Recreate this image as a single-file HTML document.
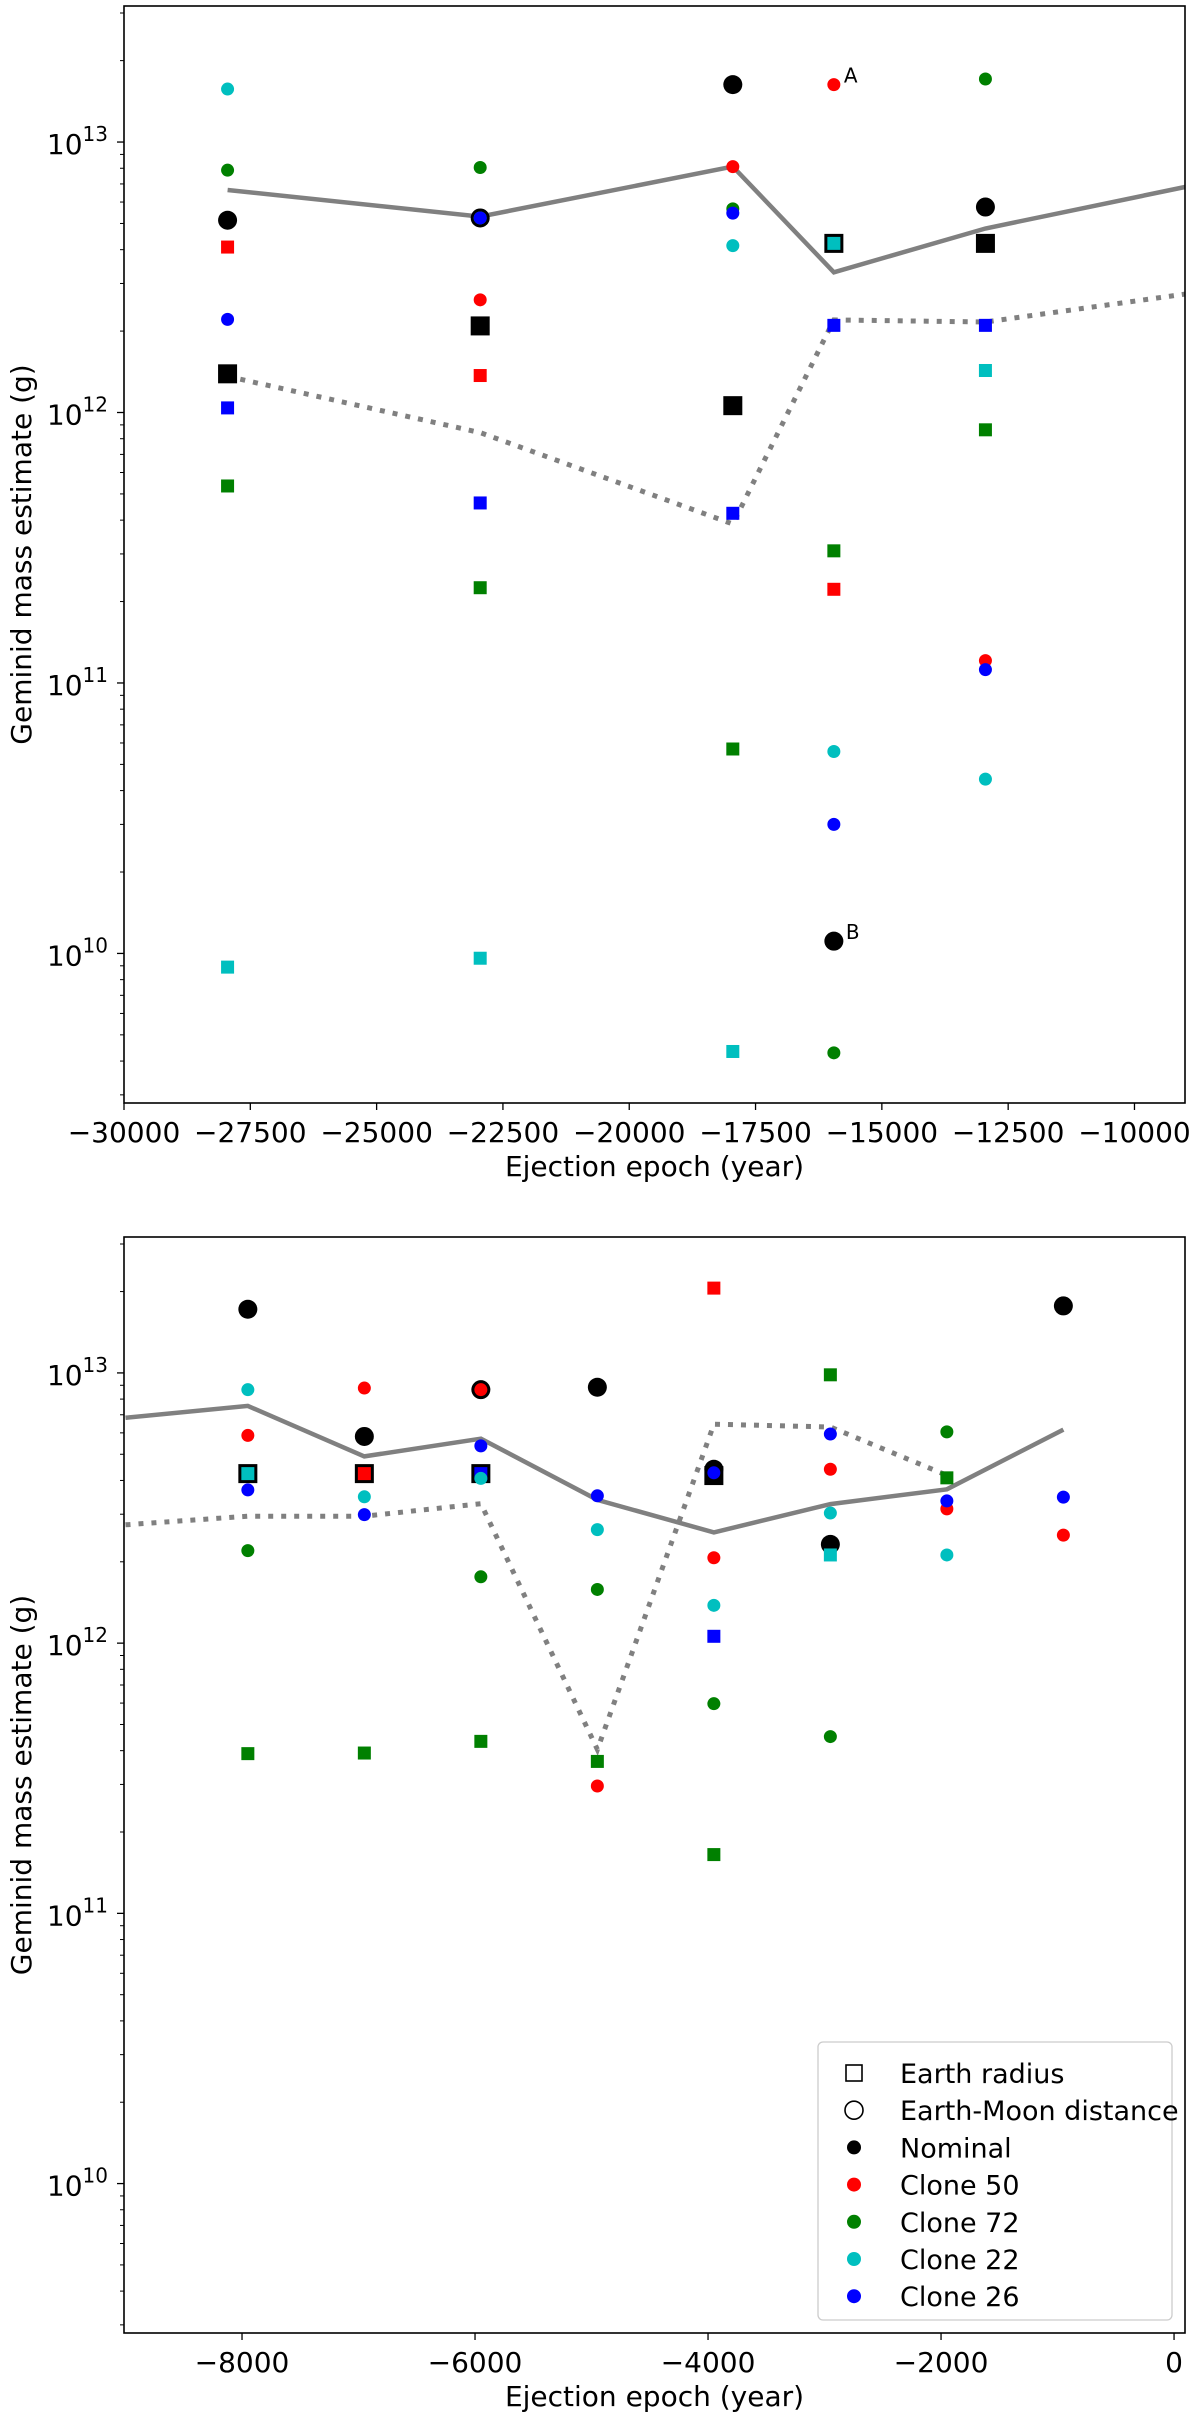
<!DOCTYPE html>
<html><head><meta charset="utf-8"><style>
html,body{margin:0;padding:0;background:#fff;}
svg{display:block;font-family:"DejaVu Sans","Liberation Sans",sans-serif;}
</style></head><body>
<svg id="chart" width="1200" height="2422" viewBox="0 0 1200 2422" xmlns="http://www.w3.org/2000/svg"></svg>
<script>
// ---- Top panel data ----
const topEpochs = [-27950, -22950, -17950, -15950, -12950];
const topNominalCircle = [5.14e12, 5.24e12, 1.63e13, 1.11e10, 5.75e12];
const topNominalSquare = [1.39e12, 2.09e12, 1.06e12, 4.22e12, 4.22e12];
const topC50Circle = [null, 2.61e12, 8.11e12, 1.63e13, 1.21e11];
const topC50Square = [4.09e12, 1.37e12, null, 2.22e11, null];
const topC72Circle = [7.87e12, 8.05e12, 5.66e12, 4.29e9, 1.71e13];
const topC72Square = [5.35e11, 2.25e11, 5.7e10, 3.08e11, 8.63e11];
const topC22Circle = [1.57e13, 5.24e12, 4.14e12, 5.58e10, 4.41e10];
const topC22Square = [8.9e9, 9.6e9, 4.34e9, 4.22e12, 1.43e12];
const topC26Circle = [2.21e12, 5.24e12, 5.46e12, 3.0e10, 1.12e11];
const topC26Square = [1.04e12, 4.63e11, 4.24e11, 2.10e12, 2.10e12];
const topLineX = [-27950, -22950, -17950, -15950, -12950, -9000];
const topSolid = [6.65e12, 5.30e12, 8.11e12, 3.30e12, 4.79e12, 6.82e12];
const topDotted = [1.36e12, 8.43e11, 3.87e11, 2.20e12, 2.16e12, 2.74e12];
const topXTicks = [-30000, -27500, -25000, -22500, -20000, -17500, -15000, -12500, -10000];
// ---- Bottom panel data ----
const botEpochs = [-7950, -6950, -5950, -4950, -3950, -2950, -1950, -950];
const botNominalCircle = [1.72e13, 5.82e12, 8.67e12, 8.85e12, 4.4e12, 2.32e12, null, 1.77e13];
const botNominalSquare = [4.24e12, 4.24e12, 4.24e12, null, 4.17e12, null, null, null];
const botC50Circle = [5.87e12, 8.79e12, 8.67e12, 2.96e11, 2.07e12, 4.40e12, 3.14e12, 2.51e12];
const botC50Square = [null, 4.24e12, null, null, 2.06e13, null, null, null];
const botC72Circle = [2.20e12, null, 1.76e12, 1.58e12, 5.97e11, 4.51e11, 6.05e12, null];
const botC72Square = [3.90e11, 3.92e11, 4.33e11, 3.65e11, 1.65e11, 9.84e12, 4.09e12, null];
const botC22Circle = [8.67e12, 3.48e12, 4.07e12, 2.63e12, 1.38e12, 3.03e12, 2.12e12, null];
const botC22Square = [4.24e12, null, null, null, null, 2.12e12, null, null];
const botC26Circle = [3.69e12, 2.99e12, 5.37e12, 3.51e12, 4.27e12, 5.94e12, 3.36e12, 3.47e12];
const botC26Square = [null, null, 4.24e12, null, 1.06e12, null, null, null];
const botSolidX = [-9000, -7950, -6950, -5950, -4950, -3950, -2950, -1950, -950];
const botSolid = [6.82e12, 7.55e12, 4.91e12, 5.71e12, 3.39e12, 2.57e12, 3.27e12, 3.71e12, 6.17e12];
const botDottedX = [-9000, -7950, -6950, -5950, -4950, -3950, -2950, -1950];
const botDotted = [2.74e12, 2.95e12, 2.95e12, 3.28e12, 4.04e11, 6.46e12, 6.31e12, 4.18e12];
const botXTicks = [-8000, -6000, -4000, -2000, 0];
const yDecades = [10, 11, 12, 13];

const NS = 'http://www.w3.org/2000/svg';
const svgRoot = document.getElementById('chart');
function mk(tag, attrs, parent) {
  const e = document.createElementNS(NS, tag);
  for (const k in attrs) e.setAttribute(k, attrs[k]);
  (parent || svgRoot).appendChild(e);
  return e;
}
const AX_L = 124, AX_R = 1185;
const LOGMIN = 9.447, LOGMAX = 13.503;

function panel(cfg) {
  const g = mk('g', {});
  
  
  const T = cfg.top, B = cfg.bottom;
  const xs = v => AX_L + (v - cfg.xmin) / (cfg.xmax - cfg.xmin) * (AX_R - AX_L);
  const ys = m => B - (Math.log10(m) - LOGMIN) / (LOGMAX - LOGMIN) * (B - T);
  function line(xArr, yArr, dashed, nm) {
    let d = '';
    xArr.forEach((x, i) => { d += (i ? 'L' : 'M') + xs(x).toFixed(1) + ',' + ys(yArr[i]).toFixed(1); });
    const p = mk('path', {d: d, fill: 'none', stroke: '#808080', 'stroke-width': dashed ? 5 : 4.5, 'stroke-dasharray': dashed ? '5,8' : 'none'}, g);
    
    
  }
  line(cfg.solidX, cfg.solid, false, 'solid-line');
  line(cfg.dottedX, cfg.dotted, true, 'dotted-line');
  function circ(vals, color, r, nm) {
    vals.forEach((v, i) => {
      if (v == null) return;
      const c = mk('circle', {cx: xs(cfg.epochs[i]), cy: ys(v), r: r, fill: color}, g);
      
      
    });
  }
  function sq(vals, color, s, nm) {
    vals.forEach((v, i) => {
      if (v == null) return;
      const c = mk('rect', {x: xs(cfg.epochs[i]) - s / 2, y: ys(v) - s / 2, width: s, height: s, fill: color}, g);
      
      
    });
  }
  sq(cfg.nomSq, '#000', 19, 'nominal-square');
  circ(cfg.nomCi, '#000', 9.5, 'nominal-circle');
  sq(cfg.c50Sq, '#ff0000', 13, 'clone50-square');
  sq(cfg.c72Sq, '#008000', 13, 'clone72-square');
  sq(cfg.c22Sq, '#00bfbf', 13, 'clone22-square');
  sq(cfg.c26Sq, '#0000ff', 13, 'clone26-square');
  circ(cfg.c50Ci, '#ff0000', 6.5, 'clone50-circle');
  circ(cfg.c72Ci, '#008000', 6.5, 'clone72-circle');
  circ(cfg.c22Ci, '#00bfbf', 6.5, 'clone22-circle');
  circ(cfg.c26Ci, '#0000ff', 6.5, 'clone26-circle');
  const fr = mk('rect', {x: AX_L, y: T, width: AX_R - AX_L, height: B - T, fill: 'none', stroke: '#000', 'stroke-width': 1.6}, g);
  
  
  yDecades.forEach(dv => {
    const y = ys(Math.pow(10, dv));
    mk('line', {x1: AX_L - 7, x2: AX_L, y1: y, y2: y, stroke: '#000', 'stroke-width': 1.3}, g);
    const t = mk('text', {x: AX_L - 16, y: y + 12, 'font-size': 28, 'text-anchor': 'end'}, g);
    
    
    t.appendChild(document.createTextNode('10'));
    const sp = mk('tspan', {'font-size': 20, dy: -13}, t);
    sp.textContent = String(dv);
  });
  for (let dv = 9; dv <= 13; dv++) {
    for (let k = 2; k <= 9; k++) {
      const lgv = dv + Math.log10(k);
      if (lgv < LOGMIN || lgv > LOGMAX) continue;
      const y = ys(Math.pow(10, lgv));
      mk('line', {x1: AX_L - 4, x2: AX_L, y1: y, y2: y, stroke: '#000', 'stroke-width': 1}, g);
    }
  }
  cfg.xticks.forEach(v => {
    const x = xs(v);
    mk('line', {x1: x, x2: x, y1: B, y2: B + 7, stroke: '#000', 'stroke-width': 1.3}, g);
    const t = mk('text', {x: x, y: B + 39, 'font-size': 28, 'text-anchor': 'middle'}, g);
    
    
    t.textContent = v < 0 ? '\u2212' + Math.abs(v) : String(v);
  });
  const xl = mk('text', {x: (AX_L + AX_R) / 2, y: B + 73, 'font-size': 28, 'text-anchor': 'middle'}, g);
  
  
  xl.textContent = 'Ejection epoch (year)';
  const yl = mk('text', {x: 0, y: 0, 'font-size': 28, 'text-anchor': 'middle', transform: 'translate(31,' + ((T + B) / 2) + ') rotate(-90)'}, g);
  
  
  yl.textContent = 'Geminid mass estimate (g)';
  return {xs: xs, ys: ys, g: g};
}

const topPanel = panel({name: 'top-panel', top: 6, bottom: 1103, xmin: -30000, xmax: -9000,
  epochs: topEpochs, nomCi: topNominalCircle, nomSq: topNominalSquare,
  c50Ci: topC50Circle, c50Sq: topC50Square, c72Ci: topC72Circle, c72Sq: topC72Square,
  c22Ci: topC22Circle, c22Sq: topC22Square, c26Ci: topC26Circle, c26Sq: topC26Square,
  solidX: topLineX, solid: topSolid, dottedX: topLineX, dotted: topDotted, xticks: topXTicks});

const ta = mk('text', {x: topPanel.xs(topEpochs[3]) + 10, y: topPanel.ys(topC50Circle[3]) - 2, 'font-size': 20}, topPanel.g);


ta.textContent = 'A';
const tb = mk('text', {x: topPanel.xs(topEpochs[3]) + 12, y: topPanel.ys(topNominalCircle[3]) - 2, 'font-size': 20}, topPanel.g);


tb.textContent = 'B';

const bottomPanel = panel({name: 'bottom-panel', top: 1237, bottom: 2333, xmin: -9013, xmax: 94,
  epochs: botEpochs, nomCi: botNominalCircle, nomSq: botNominalSquare,
  c50Ci: botC50Circle, c50Sq: botC50Square, c72Ci: botC72Circle, c72Sq: botC72Square,
  c22Ci: botC22Circle, c22Sq: botC22Square, c26Ci: botC26Circle, c26Sq: botC26Square,
  solidX: botSolidX, solid: botSolid, dottedX: botDottedX, dotted: botDotted, xticks: botXTicks});

const legendG = mk('g', {});


mk('rect', {x: 818, y: 2042, width: 354, height: 278, rx: 5, fill: '#fff', 'fill-opacity': 0.8, stroke: '#cccccc', 'stroke-width': 1.3}, legendG);
const legendLabels = ['Earth radius', 'Earth-Moon distance', 'Nominal', 'Clone 50', 'Clone 72', 'Clone 22', 'Clone 26'];
const legendColors = [null, null, '#000', '#ff0000', '#008000', '#00bfbf', '#0000ff'];
legendLabels.forEach((lab, i) => {
  const y = 2073 + i * 37.2;
  const row = mk('g', {}, legendG);
  
  
  if (i === 0) mk('rect', {x: 846, y: y - 8, width: 16, height: 16, fill: 'none', stroke: '#000', 'stroke-width': 1.6}, row);
  else if (i === 1) mk('circle', {cx: 854, cy: y, r: 9, fill: 'none', stroke: '#000', 'stroke-width': 1.6}, row);
  else mk('circle', {cx: 854, cy: y, r: 7, fill: legendColors[i]}, row);
  const t = mk('text', {x: 900, y: y + 10, 'font-size': 27}, row);
  t.textContent = lab;
});
</script>
</body></html>
